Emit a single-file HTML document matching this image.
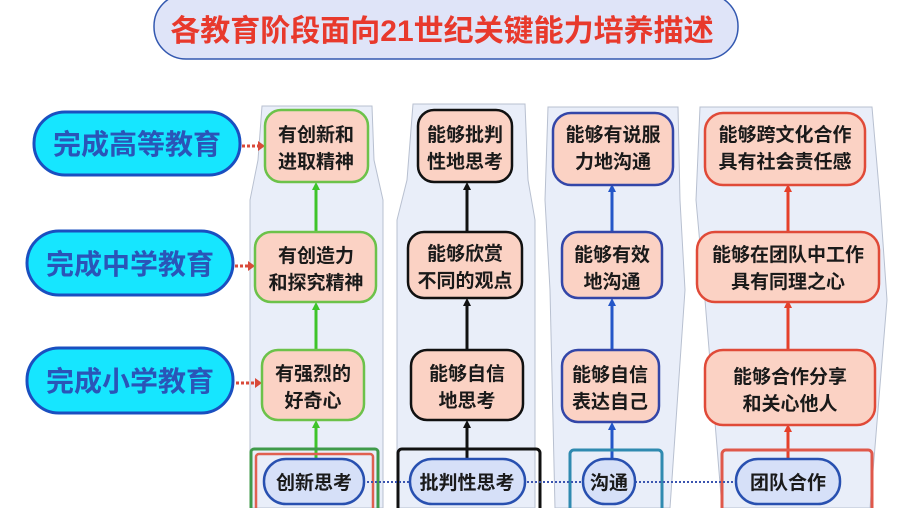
<!DOCTYPE html>
<html><head><meta charset="utf-8"><style>
html,body{margin:0;padding:0;background:#fff;width:903px;height:508px;overflow:hidden}
text{font-family:"Liberation Sans","Noto Sans CJK SC",sans-serif;font-weight:bold;text-anchor:middle}
</style></head><body>
<svg width="903" height="508" viewBox="0 0 903 508" xmlns="http://www.w3.org/2000/svg">
<!-- title -->
<rect x="154" y="-6" width="584" height="65" rx="32" fill="#dfe4f8" stroke="#3358b0" stroke-width="1.5"/>
<text x="442" y="41" font-size="30" fill="#e8392c">各教育阶段面向21世纪关键能力培养描述</text>

<!-- column panels -->
<path d="M262,106 L372,106 L374,160 L383,200 L383,508 L250,508 L250,200 L258,160 Z" fill="#e9eef9" stroke="#b8c0d0"/>
<path d="M413,104 L525,104 L528,180 L535,220 L535,508 L397,508 L397,220 L407,180 Z" fill="#e9eef9" stroke="#b8c0d0"/>
<path d="M548,107 L678,107 L680,200 L685,290 L670,508 L555,508 L550,290 L545,200 Z" fill="#e9eef9" stroke="#b8c0d0"/>
<path d="M700,107 L872,107 L880,200 L887,300 L870,508 L722,508 L705,300 L696,200 Z" fill="#e9eef9" stroke="#b8c0d0"/>

<!-- left pills -->
<g stroke="#1a4fc0" stroke-width="3" fill="#16e6ff">
<rect x="34" y="112" width="206" height="63" rx="31"/>
<rect x="27" y="231" width="206" height="64" rx="32"/>
<rect x="27" y="348" width="206" height="65" rx="32"/>
</g>
<g font-size="28" fill="#2a55b8">
<text x="137" y="154">完成高等教育</text>
<text x="130" y="274">完成中学教育</text>
<text x="130" y="391">完成小学教育</text>
</g>
<!-- red dotted arrows -->
<g stroke="#d94a3a" stroke-width="3" stroke-dasharray="3,2" fill="none">
<line x1="242" y1="146" x2="262" y2="146"/>
<line x1="235" y1="266" x2="252" y2="266"/>
<line x1="236" y1="383" x2="259" y2="383"/>
</g>
<g fill="#d94a3a">
<path d="M258,141 L265,146 L258,151Z"/><path d="M248,261 L255,266 L248,271Z"/><path d="M255,378 L262,383 L255,388Z"/>
</g>

<!-- vertical connectors -->
<g stroke-width="3">
<line x1="316" y1="458" x2="316" y2="426" stroke="#3ec42a"/>
<line x1="316" y1="350" x2="316" y2="308" stroke="#3ec42a"/>
<line x1="316" y1="232" x2="316" y2="188" stroke="#3ec42a"/>
<line x1="467" y1="458" x2="467" y2="426" stroke="#111"/>
<line x1="467" y1="350" x2="467" y2="304" stroke="#111"/>
<line x1="467" y1="232" x2="467" y2="188" stroke="#111"/>
<line x1="612" y1="458" x2="612" y2="428" stroke="#2456c8"/>
<line x1="612" y1="350" x2="612" y2="304" stroke="#2456c8"/>
<line x1="612" y1="232" x2="612" y2="190" stroke="#2456c8"/>
<line x1="788" y1="458" x2="788" y2="430" stroke="#e5402a"/>
<line x1="788" y1="350" x2="788" y2="306" stroke="#e5402a"/>
<line x1="788" y1="232" x2="788" y2="190" stroke="#e5402a"/>
</g>
<g>
<path d="M312,428 L316,420 L320,428Z M312,310 L316,302 L320,310Z M312,190 L316,182 L320,190Z" fill="#3ec42a"/>
<path d="M463,428 L467,420 L471,428Z M463,306 L467,298 L471,306Z M463,190 L467,182 L471,190Z" fill="#111"/>
<path d="M608,430 L612,422 L616,430Z M608,306 L612,298 L616,306Z M608,192 L612,184 L616,192Z" fill="#2456c8"/>
<path d="M784,432 L788,424 L792,432Z M784,308 L788,300 L792,308Z M784,192 L788,184 L792,192Z" fill="#e5402a"/>
</g>

<!-- nodes -->
<g fill="#fbd2c4" stroke-width="2.5">
<rect x="265" y="110" width="103" height="72" rx="16" stroke="#6cc24a"/>
<rect x="255" y="232" width="121" height="70" rx="16" stroke="#6cc24a"/>
<rect x="262" y="350" width="102" height="70" rx="16" stroke="#6cc24a"/>
<rect x="418" y="110" width="94" height="72" rx="16" stroke="#111"/>
<rect x="408" y="232" width="114" height="66" rx="16" stroke="#111"/>
<rect x="411" y="350" width="112" height="70" rx="16" stroke="#111"/>
<rect x="553" y="113" width="120" height="72" rx="18" stroke="#3346a8"/>
<rect x="562" y="232" width="100" height="66" rx="16" stroke="#3346a8"/>
<rect x="562" y="350" width="97" height="72" rx="16" stroke="#3346a8"/>
<rect x="705" y="113" width="160" height="72" rx="18" stroke="#e04a38"/>
<rect x="697" y="232" width="182" height="70" rx="18" stroke="#e04a38"/>
<rect x="705" y="350" width="170" height="75" rx="18" stroke="#e04a38"/>
</g>
<g font-size="19" fill="#1a1a1a">
<text x="316" y="141">有创新和</text><text x="316" y="168">进取精神</text>
<text x="316" y="262">有创造力</text><text x="316" y="289">和探究精神</text>
<text x="313" y="380">有强烈的</text><text x="313" y="407">好奇心</text>
<text x="465" y="141">能够批判</text><text x="465" y="168">性地思考</text>
<text x="465" y="260">能够欣赏</text><text x="465" y="287">不同的观点</text>
<text x="467" y="380">能够自信</text><text x="467" y="407">地思考</text>
<text x="613" y="141">能够有说服</text><text x="613" y="168">力地沟通</text>
<text x="612" y="261">能够有效</text><text x="612" y="288">地沟通</text>
<text x="610" y="381">能够自信</text><text x="610" y="408">表达自己</text>
<text x="785" y="141">能够跨文化合作</text><text x="785" y="168">具有社会责任感</text>
<text x="788" y="261">能够在团队中工作</text><text x="788" y="288">具有同理之心</text>
<text x="790" y="383">能够合作分享</text><text x="790" y="410">和关心他人</text>
</g>

<!-- bottom frames -->
<rect x="251" y="449" width="127" height="70" fill="none" stroke="#3f9a4a" stroke-width="3" rx="3"/>
<rect x="256" y="454" width="117" height="60" fill="none" stroke="#e06050" stroke-width="2.5" rx="3"/>
<rect x="398" y="449" width="142" height="70" fill="none" stroke="#111" stroke-width="3" rx="4"/>
<rect x="570" y="450" width="92" height="70" fill="none" stroke="#2f8ab0" stroke-width="3" rx="4"/>
<rect x="722" y="450" width="150" height="70" fill="none" stroke="#e0584a" stroke-width="3" rx="4"/>

<line x1="363" y1="482" x2="736" y2="482" stroke="#3b55b0" stroke-width="2" stroke-dasharray="2,2"/>

<!-- bottom pills -->
<g fill="#d6e0f8" stroke="#2850b0" stroke-width="2.5">
<rect x="264" y="459" width="100" height="45" rx="22"/>
<rect x="410" y="459" width="115" height="45" rx="22"/>
<rect x="583" y="459" width="52" height="45" rx="22"/>
<rect x="736" y="459" width="104" height="45" rx="22"/>
</g>
<g font-size="19" fill="#1a1a1a">
<text x="314" y="489">创新思考</text>
<text x="467" y="489">批判性思考</text>
<text x="609" y="489">沟通</text>
<text x="788" y="489">团队合作</text>
</g>
</svg>
</body></html>
